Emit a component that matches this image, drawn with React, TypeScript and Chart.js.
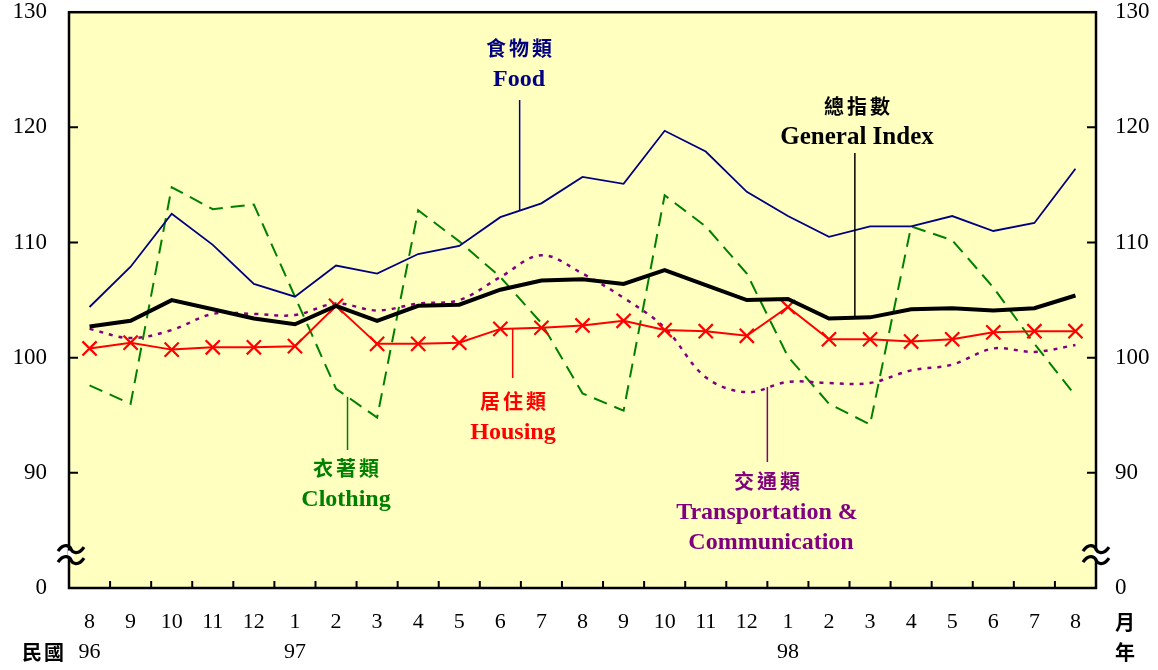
import React, { useEffect, useRef } from "react";
import { Chart, registerables } from "chart.js";

Chart.register(...registerables);

const months = ["8", "9", "10", "11", "12", "1", "2", "3", "4", "5", "6", "7", "8", "9", "10", "11", "12", "1", "2", "3", "4", "5", "6", "7", "8"];
const years = ["96", "", "", "", "", "97", "", "", "", "", "", "", "", "", "", "", "", "98", "", "", "", "", "", "", ""];

const food = [104.4, 107.9, 112.5, 109.8, 106.4, 105.3, 108.0, 107.3, 109.0, 109.7, 112.2, 113.4, 115.7, 115.1, 119.7, 117.9, 114.4, 112.3, 110.5, 111.4, 111.4, 112.3, 111.0, 111.7, 116.4];
const general = [102.7, 103.2, 105.0, 104.2, 103.4, 102.9, 104.5, 103.2, 104.5, 104.6, 105.9, 106.7, 106.8, 106.4, 107.6, 106.3, 105.0, 105.1, 103.4, 103.5, 104.2, 104.3, 104.1, 104.3, 105.4];
const housing = [100.8, 101.3, 100.7, 100.9, 100.9, 101.0, 104.5, 101.2, 101.2, 101.3, 102.5, 102.6, 102.8, 103.2, 102.4, 102.3, 101.9, 104.4, 101.6, 101.6, 101.4, 101.6, 102.2, 102.3, 102.3];
const clothing = [97.6, 96.0, 114.8, 112.9, 113.3, 105.3, 97.3, 94.8, 112.8, 110.1, 107.0, 103.0, 96.9, 95.4, 114.1, 111.4, 107.3, 100.1, 96.0, 94.2, 111.4, 110.2, 106.1, 101.2, 96.7];
const transport = [102.5, 101.7, 102.4, 103.8, 103.8, 103.7, 104.7, 104.1, 104.7, 105.0, 107.0, 108.9, 107.3, 105.2, 102.6, 98.3, 97.0, 97.9, 97.8, 97.8, 98.9, 99.4, 100.8, 100.5, 101.1];

const yMin = 80;
const yMax = 130;
const yTicks = [90, 100, 110, 120];

const SERIF = "'Liberation Serif', 'Times New Roman', serif";
const CJK = "'Noto Sans CJK TC', 'Noto Sans CJK SC', sans-serif";

type Note = { zh: string; en: string[]; color: string; x: number; y: number; lineIdx: number; lineTop: number; series: number[]; size: number };

const notes: Note[] = [
  { zh: "食物類", en: ["Food"], color: "#000080", x: 519, y: 48, lineIdx: 10.47, lineTop: 100, series: food, size: 24 },
  { zh: "總指數", en: ["General Index"], color: "#000000", x: 857, y: 106, lineIdx: 18.63, lineTop: 153, series: general, size: 25 },
  { zh: "居住類", en: ["Housing"], color: "#ff0000", x: 513, y: 401, lineIdx: 10.3, lineTop: 378, series: housing, size: 24 },
  { zh: "衣著類", en: ["Clothing"], color: "#008000", x: 346, y: 468, lineIdx: 6.28, lineTop: 450, series: clothing, size: 24 },
  { zh: "交通類", en: ["Transportation &", "Communication"], color: "#800080", x: 767, y: 481, lineIdx: 16.5, lineTop: 462, series: transport, size: 24 },
];

function drawZh(ctx: CanvasRenderingContext2D, text: string, cx: number, cy: number, size: number, spacing: number) {
  ctx.font = `bold ${size}px ${CJK}`;
  ctx.textAlign = "center";
  ctx.textBaseline = "middle";
  const chars = Array.from(text);
  const step = size + spacing;
  const total = step * chars.length - spacing;
  chars.forEach((c, i) => {
    ctx.fillText(c, cx - total / 2 + size / 2 + i * step, cy);
  });
}

function drawBreak(ctx: CanvasRenderingContext2D, cx: number, cy: number) {
  ctx.save();
  ctx.fillStyle = "#ffffff";
  ctx.fillRect(cx - 3, cy - 4, 6, 8);
  ctx.strokeStyle = "#000";
  ctx.lineWidth = 3.2;
  for (const dy of [-5.5, 5.5]) {
    const y = cy + dy;
    ctx.beginPath();
    ctx.moveTo(cx - 13, y + 2);
    ctx.bezierCurveTo(cx - 7, y - 7, cx - 1, y - 3, cx, y);
    ctx.bezierCurveTo(cx + 1, y + 3, cx + 7, y + 7, cx + 13, y - 2);
    ctx.stroke();
  }
  ctx.restore();
}

const decorPlugin = {
  id: "decor",
  beforeDraw(chart: any) {
    const { ctx, chartArea } = chart;
    ctx.save();
    ctx.fillStyle = "rgb(255,255,192)";
    ctx.fillRect(chartArea.left, chartArea.top, chartArea.right - chartArea.left, chartArea.bottom - chartArea.top);
    ctx.restore();
  },
  afterDatasetsDraw(chart: any) {
    const { ctx, chartArea, scales } = chart;
    const xs = scales.x;
    const ys = scales.y;
    const { left, right, top, bottom } = chartArea;
    ctx.save();
    // border
    ctx.strokeStyle = "#000";
    ctx.lineWidth = 2.5;
    ctx.strokeRect(left, top, right - left, bottom - top);
    // y ticks inward
    ctx.lineWidth = 2;
    for (const v of yTicks) {
      const y = ys.getPixelForValue(v);
      ctx.beginPath();
      ctx.moveTo(left, y);
      ctx.lineTo(left + 9, y);
      ctx.moveTo(right, y);
      ctx.lineTo(right - 9, y);
      ctx.stroke();
    }
    // x ticks at band edges
    const half = (xs.getPixelForValue(1) - xs.getPixelForValue(0)) / 2;
    for (let i = 0; i < months.length - 1; i++) {
      const x = xs.getPixelForValue(i) + half;
      ctx.beginPath();
      ctx.moveTo(x, bottom);
      ctx.lineTo(x, bottom - 7);
      ctx.stroke();
    }
    // breaks
    const by = ys.getPixelForValue(82.9);
    drawBreak(ctx, left + 2, by);
    drawBreak(ctx, right, by);

    // annotations
    for (const n of notes) {
      const i0 = Math.floor(n.lineIdx);
      const f = n.lineIdx - i0;
      const v = n.series[i0] + (n.series[i0 + 1] - n.series[i0]) * f;
      const px = xs.getPixelForValue(i0) + (xs.getPixelForValue(i0 + 1) - xs.getPixelForValue(i0)) * f;
      const py = ys.getPixelForValue(v);
      ctx.strokeStyle = n.color;
      ctx.lineWidth = 1.5;
      ctx.beginPath();
      ctx.moveTo(px, n.lineTop);
      ctx.lineTo(px, py);
      ctx.stroke();

      ctx.fillStyle = n.color;
      drawZh(ctx, n.zh, n.x, n.y, 20, 3);
      ctx.font = `bold ${n.size}px ${SERIF}`;
      ctx.textAlign = "center";
      ctx.textBaseline = "middle";
      n.en.forEach((t, k) => {
        ctx.fillText(t, n.x + (k === 1 ? 4 : 0), n.y + 32 + k * 30);
      });
    }

    // axis unit labels
    ctx.fillStyle = "#000";
    drawZh(ctx, "民國", 43, 652, 20, 2);
    drawZh(ctx, "月", 1125, 622, 20, 0);
    drawZh(ctx, "年", 1125, 652, 20, 0);
    ctx.restore();
  },
};

export default function App() {
  const ref = useRef<HTMLCanvasElement | null>(null);
  useEffect(() => {
    if (!ref.current) return;
    const xFont = { family: SERIF, size: 22, lineHeight: 30 / 22 };
    const yFont = { family: SERIF, size: 23 };
    const yCallback = (v: any) => (Number(v) === yMin ? "0" : String(v));
    const noPad = (s: any) => {
      s.paddingTop = 0;
      s.paddingBottom = 0;
      s.paddingLeft = 0;
      s.paddingRight = 0;
    };
    const chart = new Chart(ref.current, {
      type: "line",
      data: {
        labels: months.map((m, i) => [m, years[i]]),
        datasets: [
          { label: "總指數 General Index", data: general, borderColor: "#000", borderWidth: 4, pointRadius: 0, order: 0, yAxisID: "y" },
          { label: "居住類 Housing", data: housing, borderColor: "#ff0000", borderWidth: 2, pointStyle: "crossRot", pointRadius: 10, pointBorderWidth: 2.2, pointBorderColor: "#ff0000", order: 1, yAxisID: "y" },
          { label: "食物類 Food", data: food, borderColor: "#000080", borderWidth: 1.8, pointRadius: 0, order: 2, yAxisID: "y" },
          { label: "交通類 Transportation & Communication", data: transport, borderColor: "#800080", borderWidth: 2.5, borderDash: [4, 6], pointRadius: 0, tension: 0.35, order: 3, yAxisID: "y" },
          { label: "衣著類 Clothing", data: clothing, borderColor: "#008000", borderWidth: 2, borderDash: [14, 8], pointRadius: 0, order: 4, yAxisID: "y" },
        ],
      },
      options: {
        animation: false,
        responsive: false,
        maintainAspectRatio: false,
        layout: { padding: { top: 12, left: 0, right: 0, bottom: 0 } },
        plugins: { legend: { display: false }, tooltip: { enabled: false } },
        scales: {
          x: {
            offset: true,
            grid: { display: false, drawTicks: false },
            border: { display: false },
            ticks: { autoSkip: false, maxRotation: 0, color: "#000", font: xFont, padding: 19 },
            afterFit: (s: any) => { s.height = 82; noPad(s); },
          },
          y: {
            position: "left",
            min: yMin,
            max: yMax,
            grid: { display: false, drawTicks: false },
            border: { display: false },
            ticks: { stepSize: 10, color: "#000", font: yFont, padding: 22, callback: yCallback },
            afterFit: (s: any) => { s.width = 69; noPad(s); },
          },
          y2: {
            position: "right",
            min: yMin,
            max: yMax,
            grid: { display: false, drawTicks: false },
            border: { display: false },
            ticks: { stepSize: 10, color: "#000", font: yFont, padding: 19, callback: yCallback },
            afterFit: (s: any) => { s.width = 62; noPad(s); },
          },
        },
      },
      plugins: [decorPlugin],
    });
    return () => chart.destroy();
  }, []);
  return (
    <div style={{ position: "fixed", left: 0, top: 0, width: 1158, height: 670, background: "#fff" }}>
      <canvas ref={ref} width={1158} height={670} style={{ width: 1158, height: 670, display: "block" }} />
    </div>
  );
}
